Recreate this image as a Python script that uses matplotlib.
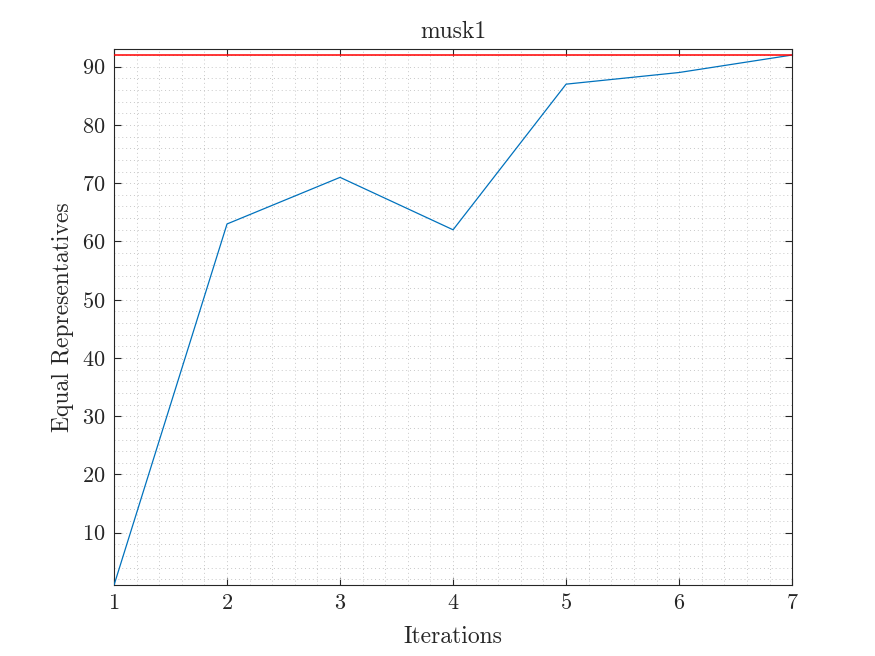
import matplotlib
matplotlib.use("Agg")
import matplotlib.pyplot as plt
from matplotlib.ticker import MultipleLocator

iterations = [1, 2, 3, 4, 5, 6, 7]
equal_reps = [1, 63, 71, 62, 87, 89, 92]
target = 92

plt.rcParams["font.family"] = "serif"
plt.rcParams["font.serif"] = ["cmr10", "DejaVu Serif"]
plt.rcParams["axes.formatter.use_mathtext"] = True
plt.rcParams["mathtext.fontset"] = "cm"

ink = "#262626"
fig = plt.figure(figsize=(8.75, 6.56), dpi=100)
ax = fig.add_axes([0.1303, 0.108, 0.775, 0.817])

ax.plot(iterations, equal_reps, color="#0072BD", lw=0.9, zorder=3)
ax.axhline(target, color="#FF0000", lw=1.1, zorder=3)

ax.set_xlim(1, 7)
ax.set_ylim(1, 93)
ax.xaxis.set_major_locator(MultipleLocator(1))
ax.yaxis.set_major_locator(MultipleLocator(10))
ax.xaxis.set_minor_locator(MultipleLocator(0.2))
ax.yaxis.set_minor_locator(MultipleLocator(2))
ax.grid(which="both", ls=(0, (1, 3)), color="#c8c8c8", lw=0.7)
ax.tick_params(which="both", direction="in", top=True, right=True,
               colors=ink, labelsize=16, length=5, pad=6)
ax.tick_params(which="minor", length=0)
for s in ax.spines.values():
    s.set_color(ink)
    s.set_linewidth(0.8)

ax.set_title("musk1", fontsize=17, color=ink, pad=8)
ax.set_xlabel("Iterations", fontsize=17, color=ink, labelpad=9)
ax.set_ylabel("Equal Representatives", fontsize=17, color=ink, labelpad=6)

fig.savefig("out.png", dpi=100)
